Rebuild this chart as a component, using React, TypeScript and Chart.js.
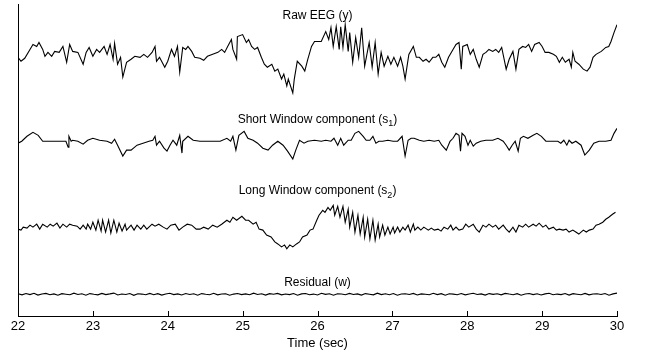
import React, { useEffect, useRef } from "react";
import { Chart, registerables } from "chart.js";

Chart.register(...registerables);

const FONT = "'Liberation Sans', Arial, Helvetica, sans-serif";

const xTicks = [22, 23, 24, 25, 26, 27, 28, 29, 30];
const xTitle = "Time (sec)";

// [time (s), amplitude]
const rawEEG: [number, number][] = [
  [22.0, -3], [22.04, -7], [22.09, -4], [22.16, 5], [22.2, 10], [22.25, 8], [22.28, 12], [22.33, 5], [22.36, -2], [22.4, 2],
  [22.45, -2], [22.49, 3], [22.55, 2], [22.6, 8], [22.65, -8], [22.69, 10], [22.73, 3], [22.8, 2], [22.87, -10], [22.91, 2],
  [22.95, 7], [23.0, -2], [23.05, 5], [23.09, 2], [23.15, 8], [23.19, 0], [23.23, 10], [23.27, -5], [23.29, 11], [23.33, -10],
  [23.37, -3], [23.4, -23], [23.45, -8], [23.51, -5], [23.56, -2], [23.63, -3], [23.68, 0], [23.73, -3], [23.79, 2], [23.83, 8],
  [23.85, -7], [23.89, -3], [23.96, -13], [24.0, -7], [24.05, 5], [24.09, -2], [24.13, 8], [24.16, -18], [24.2, 7], [24.24, 5],
  [24.27, 8], [24.32, 3], [24.36, -3], [24.43, -4], [24.48, -6], [24.53, -2], [24.6, 0], [24.67, 2], [24.72, 5], [24.76, 2],
  [24.8, 8], [24.85, 15], [24.87, 5], [24.92, -5], [24.93, 18], [25.0, 20], [25.05, 12], [25.08, 15], [25.12, 8], [25.16, 5],
  [25.2, 7], [25.25, -3], [25.29, -10], [25.33, -13], [25.39, -10], [25.43, -17], [25.47, -15], [25.52, -25], [25.55, -20], [25.59, -32],
  [25.61, -25], [25.67, -39], [25.69, -25], [25.73, -7], [25.79, -12], [25.83, -17], [25.87, -5], [25.92, 8], [25.96, 13], [26.05, 13],
  [26.11, 23], [26.15, 15], [26.18, 27], [26.21, 8], [26.25, 28], [26.29, 5], [26.31, 28], [26.34, 7], [26.37, 30], [26.41, 3],
  [26.43, 22], [26.47, -8], [26.51, 17], [26.55, -3], [26.59, 27], [26.63, -12], [26.69, 12], [26.73, -13], [26.77, 12], [26.81, -20],
  [26.85, 2], [26.89, -12], [26.94, -2], [26.98, -10], [27.02, -3], [27.07, -12], [27.11, -3], [27.14, -12], [27.17, -25], [27.22, 0],
  [27.28, 8], [27.32, -3], [27.36, -3], [27.41, -7], [27.45, -5], [27.49, -8], [27.54, -3], [27.58, -3], [27.62, 0], [27.66, -8],
  [27.7, -13], [27.75, -3], [27.81, 5], [27.85, 10], [27.89, 12], [27.92, -15], [27.94, 8], [28.0, 10], [28.04, 0], [28.08, 5],
  [28.12, -5], [28.16, -13], [28.21, 0], [28.25, 2], [28.29, 5], [28.34, 3], [28.38, 5], [28.42, 2], [28.46, 7], [28.52, -15],
  [28.56, -5], [28.61, 3], [28.65, -15], [28.69, 5], [28.74, 8], [28.78, 7], [28.82, 10], [28.86, 3], [28.9, 10], [28.96, 12],
  [29.0, 8], [29.04, 2], [29.09, 2], [29.15, 0], [29.19, -2], [29.23, -8], [29.27, -3], [29.31, -8], [29.36, -5], [29.39, -13],
  [29.41, 2], [29.44, -7], [29.49, -10], [29.55, -15], [29.6, -17], [29.64, -13], [29.68, -3], [29.72, 0], [29.79, 3], [29.85, 7],
  [29.89, 8], [29.92, 13], [29.96, 22], [30.0, 30],
];

const shortWindow: [number, number][] = [
  [22.0, -2], [22.05, 0], [22.12, 5], [22.2, 9], [22.27, 6], [22.33, 0], [22.43, 0], [22.52, 0], [22.59, 0], [22.64, 0],
  [22.67, -6], [22.68, 5], [22.71, 0], [22.73, 1], [22.8, 0], [22.87, -3], [22.93, 1], [23.0, 3], [23.09, 1], [23.19, 0],
  [23.25, -2], [23.29, 2], [23.33, -4], [23.4, -15], [23.45, -9], [23.51, -9], [23.59, -4], [23.67, -2], [23.75, 0], [23.8, 1],
  [23.83, 5], [23.85, -4], [23.89, 0], [23.95, -7], [23.99, -10], [24.03, -4], [24.07, 1], [24.12, -4], [24.16, 6], [24.19, -12],
  [24.2, 0], [24.27, 5], [24.34, 1], [24.43, 0], [24.52, 0], [24.6, 0], [24.7, 0], [24.79, 3], [24.84, 0], [24.87, 5],
  [24.91, -9], [24.95, 6], [25.02, 10], [25.07, 3], [25.14, 1], [25.2, -2], [25.27, -7], [25.34, -9], [25.4, -4], [25.47, 0],
  [25.54, -4], [25.6, -10], [25.67, -18], [25.71, -9], [25.76, 1], [25.82, -2], [25.87, 0], [25.96, 1], [26.05, 0], [26.11, 1],
  [26.18, 0], [26.22, 3], [26.27, -4], [26.31, 3], [26.35, -4], [26.41, 1], [26.45, 1], [26.5, 8], [26.55, 10], [26.61, 5],
  [26.65, 1], [26.7, 1], [26.74, 5], [26.78, -2], [26.82, 0], [26.87, 0], [26.94, 1], [27.01, 0], [27.07, 0], [27.13, 5],
  [27.17, -15], [27.21, 1], [27.25, 3], [27.29, 3], [27.36, 1], [27.42, 0], [27.49, 1], [27.56, 0], [27.62, 1], [27.66, -4],
  [27.72, -9], [27.77, 0], [27.81, 3], [27.85, 8], [27.89, 6], [27.91, -10], [27.93, 8], [27.97, 5], [28.01, -4], [28.04, 1],
  [28.08, -5], [28.12, -2], [28.18, 0], [28.25, 1], [28.34, 1], [28.41, 3], [28.48, 0], [28.52, -4], [28.56, -9], [28.6, -4],
  [28.64, 0], [28.68, -10], [28.71, 3], [28.75, 5], [28.81, 3], [28.88, 6], [28.93, 8], [28.99, 5], [29.05, 0], [29.15, 0],
  [29.21, 0], [29.25, -2], [29.29, 1], [29.33, -4], [29.36, 1], [29.4, -2], [29.45, 0], [29.52, -4], [29.57, -14], [29.63, -9],
  [29.69, -2], [29.76, 0], [29.85, 0], [29.92, 1], [29.96, 8], [30.0, 13],
];

const longWindow: [number, number][] = [
  [22.0, -2], [22.04, -3], [22.07, 0], [22.12, -1], [22.16, 2], [22.2, 0], [22.25, 3], [22.29, -2], [22.33, 3], [22.39, 0],
  [22.43, 3], [22.47, 1], [22.52, 4], [22.56, -1], [22.6, 3], [22.65, 0], [22.69, 3], [22.73, 2], [22.79, 1], [22.83, -2],
  [22.87, 2], [22.91, -2], [22.93, 3], [22.97, -2], [23.0, 5], [23.04, -3], [23.07, 7], [23.11, -4], [23.13, 7], [23.17, -5],
  [23.21, 7], [23.24, -6], [23.28, 7], [23.32, -5], [23.35, 4], [23.39, -4], [23.43, 3], [23.45, -3], [23.51, 2], [23.55, -3],
  [23.59, 2], [23.64, -2], [23.68, 2], [23.72, -2], [23.79, 3], [23.83, 1], [23.88, 3], [23.94, 0], [23.99, -2], [24.04, 2],
  [24.1, 3], [24.15, -3], [24.2, 0], [24.26, 3], [24.32, 2], [24.38, -2], [24.43, -2], [24.48, 0], [24.54, -2], [24.6, 2],
  [24.66, 0], [24.72, 3], [24.79, 7], [24.83, 5], [24.87, 10], [24.92, 7], [24.99, 11], [25.04, 7], [25.08, 7], [25.14, 3],
  [25.18, 5], [25.22, -2], [25.27, -3], [25.32, -8], [25.38, -10], [25.43, -15], [25.47, -17], [25.52, -20], [25.56, -18], [25.59, -22],
  [25.63, -18], [25.67, -20], [25.72, -17], [25.76, -15], [25.8, -10], [25.86, -8], [25.9, -3], [25.94, -2], [25.99, 7], [26.02, 12],
  [26.07, 17], [26.1, 15], [26.14, 20], [26.17, 17], [26.21, 22], [26.23, 12], [26.27, 21], [26.3, 10], [26.34, 21], [26.37, 5],
  [26.41, 18], [26.43, 0], [26.47, 15], [26.5, -5], [26.54, 12], [26.57, -7], [26.61, 10], [26.63, -10], [26.67, 8], [26.7, -12],
  [26.74, 7], [26.77, -13], [26.81, 3], [26.83, -10], [26.87, 2], [26.9, -8], [26.94, 0], [26.97, -7], [27.01, 0], [27.03, -6],
  [27.07, 0], [27.1, -5], [27.14, 0], [27.17, -3], [27.21, 2], [27.24, -5], [27.28, 3], [27.3, -3], [27.34, 0], [27.38, -3],
  [27.42, 0], [27.48, -3], [27.52, -1], [27.56, -3], [27.61, -2], [27.65, -4], [27.69, 0], [27.74, -2], [27.78, 2], [27.81, -3],
  [27.85, 0], [27.89, -3], [27.94, -2], [27.98, 3], [28.02, 0], [28.08, 3], [28.12, -2], [28.16, -5], [28.21, 2], [28.25, 0],
  [28.29, 3], [28.34, 0], [28.38, 2], [28.42, -2], [28.48, 2], [28.52, -2], [28.56, -5], [28.61, 0], [28.65, -5], [28.69, 2],
  [28.74, 0], [28.78, 3], [28.82, 0], [28.88, 3], [28.92, 1], [28.96, 4], [29.01, 0], [29.05, 2], [29.09, -2], [29.15, 0],
  [29.19, -3], [29.23, -2], [29.28, -3], [29.32, -2], [29.36, -5], [29.41, -3], [29.45, -5], [29.49, -7], [29.55, -3], [29.59, -5],
  [29.63, -3], [29.68, -2], [29.72, 2], [29.76, 3], [29.81, 5], [29.85, 8], [29.89, 10], [29.94, 13], [29.98, 15],
];

// residual samples, evenly spaced over 22–30 s
const residual: number[] = [
  0.5, -0.6, 0.8, -0.3, 1.0, -0.8, 0.2, 0.9, -0.5, 0.4, -1.0, 0.6, 0.1, -0.4, 1.1, -0.2, 0.5, -0.9, 0.7, 0.0,
  -0.6, 0.9, -0.3, 0.4, 1.2, -0.7, 0.3, -0.2, 0.8, -1.1, 0.5, 0.2, -0.5, 0.9, -0.4, 0.6, -0.8, 0.3, 1.0, -0.3,
  0.4, -0.7, 0.8, -0.2, 0.5, -1.0, 0.7, 0.1, -0.4, 1.0, -0.6, 0.3, 0.6, -0.9, 0.2, 0.8, -0.3, 0.4, -0.5, 1.1,
  -0.2, 0.5, -0.8, 0.6, 0.0, 0.9, -0.6, 0.3, -0.3, 0.7, -1.0, 0.4, 0.8, -0.4, 0.2, -0.7, 1.0, -0.1, 0.5, -0.9,
  0.6, 0.3, -0.5, 0.9, -0.2, 0.4, -0.8, 0.7, 0.1, -0.6, 1.1, -0.3, 0.5, -0.4, 0.8, -1.0, 0.3, 0.6, -0.2, 0.9,
  -0.7, 0.4, 0.1, -0.5, 1.0, -0.3, 0.6, -0.9, 0.5, 0.2, -0.4, 0.8, -0.6, 0.3, 1.0, -0.2, 0.4, -0.8, 0.7, -0.1,
  0.5, -0.6, 0.9, 0.2, -0.4, 0.6, -1.0, 0.3, 0.8, -0.3, 0.5, -0.7, 0.4, 1.0, -0.5, 0.2, -0.3, 0.7, -0.8, 0.6,
  0.1, -0.4, 0.9, -0.6, 0.3, 0.5, -0.2, 0.8, -0.9, 0.4, 1.2,
];

const traceLabels = [
  { head: "Raw EEG (y)", sub: "", tail: "" },
  { head: "Short Window component (s", sub: "1", tail: ")" },
  { head: "Long Window component (s", sub: "2", tail: ")" },
  { head: "Residual (w)", sub: "", tail: "" },
];

// stacking layout (vertical baseline of each trace and its label)
const traceOffsets = [265, 177, 90, 22];
const labelLevels = [304, 199, 126.5, 34];

const stackPlugin = {
  id: "stackLabels",
  afterDraw(chart: any) {
    const { ctx, scales, chartArea } = chart;
    const xs = scales.x;
    const ys = scales.y;
    ctx.save();
    ctx.fillStyle = "#000";
    ctx.textBaseline = "middle";
    ctx.textAlign = "left";
    const mainFont = `12px ${FONT}`;
    const subFont = `9px ${FONT}`;
    traceLabels.forEach((L, i) => {
      ctx.font = mainFont;
      const w1 = ctx.measureText(L.head).width;
      const w3 = L.tail ? ctx.measureText(L.tail).width : 0;
      ctx.font = subFont;
      const w2 = L.sub ? ctx.measureText(L.sub).width : 0;
      let cx = xs.getPixelForValue(26) - (w1 + w2 + w3) / 2;
      const cy = ys.getPixelForValue(labelLevels[i]);
      ctx.font = mainFont;
      ctx.fillText(L.head, cx, cy);
      cx += w1;
      if (L.sub) {
        ctx.font = subFont;
        ctx.fillText(L.sub, cx, cy + 4);
        cx += w2;
      }
      if (L.tail) {
        ctx.font = mainFont;
        ctx.fillText(L.tail, cx, cy);
      }
    });
    // inward tick marks
    ctx.strokeStyle = "#000";
    ctx.lineWidth = 1;
    const bottom = chartArea.bottom;
    xs.ticks.forEach((t: any) => {
      const px = Math.round(xs.getPixelForValue(t.value)) + 0.5;
      ctx.beginPath();
      ctx.moveTo(px, bottom);
      ctx.lineTo(px, bottom - 5);
      ctx.stroke();
    });
    ctx.restore();
  },
};

export default function App() {
  const ref = useRef<HTMLCanvasElement>(null);
  useEffect(() => {
    const n = residual.length;
    const series = [rawEEG, shortWindow, longWindow];
    const datasets: any[] = series.map((s, i) => ({
      data: s.map(([t, v]) => ({ x: t, y: v + traceOffsets[i] })),
      borderColor: "#000",
      borderWidth: 1.1,
      pointRadius: 0,
      fill: false,
      tension: 0,
    }));
    datasets.push({
      data: residual.map((v, i) => ({ x: 22 + (i * 8) / (n - 1), y: v + traceOffsets[3] })),
      borderColor: "#000",
      borderWidth: 1.1,
      pointRadius: 0,
      fill: false,
      tension: 0,
    });
    const chart = new Chart(ref.current as HTMLCanvasElement, {
      type: "line",
      data: { datasets },
      options: {
        animation: false,
        responsive: true,
        maintainAspectRatio: false,
        layout: { padding: { left: 18, right: 29, top: 4, bottom: 8 } },
        plugins: { legend: { display: false }, tooltip: { enabled: false } },
        scales: {
          x: {
            type: "linear",
            min: 22,
            max: 30,
            afterBuildTicks: (s: any) => {
              s.ticks = xTicks.map((v) => ({ value: v }));
            },
            grid: { display: false, drawTicks: false },
            border: { display: true, color: "#000", width: 1 },
            ticks: {
              color: "#000",
              padding: 4,
              maxRotation: 0,
              autoSkip: false,
              font: { size: 13, lineHeight: 1, family: FONT },
            },
            title: {
              display: true,
              text: xTitle,
              color: "#000",
              font: { size: 13, lineHeight: 1, family: FONT },
              padding: { top: 0, bottom: 0 },
            },
          },
          y: {
            type: "linear",
            min: 0,
            max: 316,
            grid: { display: false, drawTicks: false },
            border: { display: true, color: "#000", width: 1 },
            ticks: { display: false },
          },
        },
      } as any,
      plugins: [stackPlugin],
    });
    return () => chart.destroy();
  }, []);
  return (
    <div style={{ position: "absolute", left: 0, top: 0, width: 646, height: 358, background: "#fff" }}>
      <canvas ref={ref} />
    </div>
  );
}
